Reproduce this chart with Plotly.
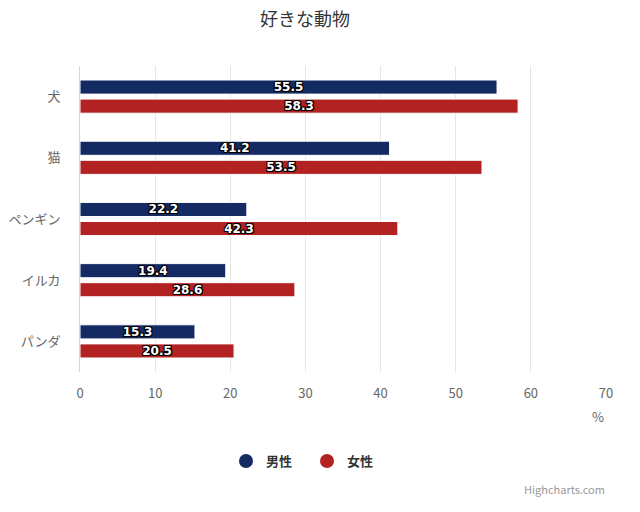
import plotly.graph_objects as go

categories = ["犬", "猫", "ペンギン", "イルカ", "パンダ"]
male = [55.5, 41.2, 22.2, 19.4, 15.3]
female = [58.3, 53.5, 42.3, 28.6, 20.5]
series_names = ["男性", "女性"]
colors = ["#142a63", "#b22222"]
x_ticks = [0, 10, 20, 30, 40, 50, 60, 70]

FONT = "Noto Sans CJK JP, Noto Sans, DejaVu Sans, sans-serif"
LABEL_FONT = "DejaVu Sans, Verdana, sans-serif"
outline = "-1px -1px 0 #000, 1px -1px 0 #000, -1px 1px 0 #000, 1px 1px 0 #000, 0 1px 0 #000, 0 -1px 0 #000, 1px 0 0 #000, -1px 0 0 #000"

fig = go.Figure()
for name, vals, col in zip(series_names, [male, female], colors):
    fig.add_trace(go.Bar(
        y=categories, x=vals, name=name, orientation="h",
        marker=dict(color=col, line=dict(color="#ffffff", width=1)),
        text=[f"{v:.1f}" for v in vals],
        textposition="inside", insidetextanchor="middle",
        constraintext="none",
        textfont=dict(color="#ffffff", size=12, family=LABEL_FONT, weight="bold", shadow=outline),
        showlegend=False, hoverinfo="skip",
    ))
    fig.add_trace(go.Scatter(
        x=[None], y=[None], mode="markers", name=name,
        marker=dict(symbol="circle", size=14, color=col),
        showlegend=True,
    ))

fig.update_layout(
    width=640, height=512,
    paper_bgcolor="#ffffff", plot_bgcolor="#ffffff",
    margin=dict(l=80, r=34, t=66, b=140, autoexpand=False),
    font=dict(family=FONT, color="#666666", size=13),
    title=dict(text="好きな動物", x=305/640, xref="container", xanchor="center",
               y=1 - 20/512, yref="container", yanchor="middle",
               font=dict(size=18, color="#333333", family=FONT)),
    barmode="group", bargap=0.377, bargroupgap=0.26,
    xaxis=dict(range=[0, 70], tickvals=x_ticks, showgrid=True, gridcolor="#e6e6e6",
               gridwidth=1, zeroline=False, showline=False, ticks="", automargin=False,
               ticklabelstandoff=12, tickfont=dict(size=13, color="#666666")),
    yaxis=dict(autorange="reversed", showline=True, linecolor="#ccd6eb", linewidth=1,
               showgrid=False, zeroline=False, ticks="", ticklabelstandoff=16, automargin=False,
               tickfont=dict(size=13, color="#666666")),
    legend=dict(orientation="h", xref="container", x=226/640, xanchor="left",
                yref="container", y=1 - 461/512, yanchor="middle",
                entrywidth=36, entrywidthmode="pixels",
                font=dict(size=13, color="#333333", family=FONT, weight="bold"),
                itemsizing="trace"),
    annotations=[
        dict(text="%", xref="paper", yref="paper", x=1, y=0, xanchor="right",
             yanchor="middle", yshift=-44, showarrow=False,
             font=dict(size=13, color="#666666", family=FONT)),
        dict(text="Highcharts.com", xref="paper", yref="paper", x=1, y=0,
             xanchor="right", yanchor="middle", yshift=-117, xshift=1, showarrow=False,
             font=dict(size=11, color="#999999", family=FONT)),
    ],
)

fig.write_html("out.html", config={"displayModeBar": False},
               post_script="document.body.style.margin='0';")
